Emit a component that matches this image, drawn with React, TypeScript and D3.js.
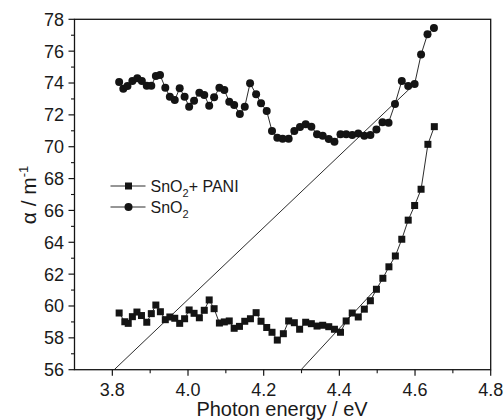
import React from "react";
import * as d3 from "d3";

const energySnO2 = [3.818,3.829,3.840,3.853,3.866,3.878,3.891,3.903,3.915,3.926,3.940,3.952,3.965,3.978,3.991,4.003,4.016,4.030,4.043,4.056,4.069,4.083,4.096,4.109,4.122,4.137,4.150,4.164,4.180,4.193,4.208,4.222,4.236,4.250,4.266,4.281,4.296,4.311,4.326,4.341,4.356,4.372,4.387,4.403,4.418,4.434,4.450,4.466,4.482,4.498,4.514,4.530,4.547,4.565,4.582,4.599,4.616,4.633,4.650];
const alphaSnO2 = [74.06,73.64,73.81,74.13,74.30,74.13,73.83,73.83,74.44,74.50,73.71,73.14,72.93,73.67,73.14,72.51,72.89,73.39,73.25,72.58,73.10,73.71,73.56,72.83,72.62,72.05,72.51,73.98,73.29,72.73,72.24,70.99,70.57,70.50,70.50,70.99,71.24,71.41,71.26,70.78,70.69,70.48,70.31,70.78,70.78,70.74,70.83,70.69,70.74,71.08,71.53,71.51,72.68,74.13,73.81,73.94,75.79,77.06,77.45];

const energyPANI = [3.818,3.833,3.842,3.853,3.865,3.877,3.891,3.903,3.915,3.927,3.940,3.952,3.965,3.978,3.991,4.003,4.016,4.030,4.043,4.056,4.069,4.083,4.096,4.109,4.122,4.136,4.150,4.165,4.180,4.193,4.208,4.222,4.236,4.252,4.266,4.281,4.295,4.311,4.326,4.341,4.356,4.372,4.387,4.403,4.418,4.434,4.450,4.466,4.482,4.498,4.515,4.531,4.548,4.565,4.582,4.599,4.616,4.634,4.651];
const alphaPANI = [59.56,59.01,58.91,59.33,59.62,59.40,58.98,59.52,60.06,59.64,59.14,59.31,59.23,58.91,59.20,59.75,59.54,59.26,59.73,60.38,59.83,58.93,59.00,59.06,58.60,58.72,59.04,59.20,59.58,59.04,58.65,58.35,57.86,58.26,59.06,58.95,58.54,58.98,58.89,58.74,58.79,58.70,58.54,58.35,59.06,59.56,59.31,59.80,60.33,61.05,61.74,62.46,63.14,64.19,65.39,66.31,67.33,70.15,71.26];

const fitSnO2X = [3.805, 4.599];
const fitSnO2Y = [56, 73.94];
const fitPANIX = [4.299, 4.499];
const fitPANIY = [56, 61.13];

const xMajor = [3.8, 4.0, 4.2, 4.4, 4.6, 4.8];
const xMinor = [3.9, 4.1, 4.3, 4.5, 4.7];
const yMajor = [56, 58, 60, 62, 64, 66, 68, 70, 72, 74, 76, 78];
const yMinor = [57, 59, 61, 63, 65, 67, 69, 71, 73, 75, 77];

const W = 504, H = 420;
const left = 74.5, right = 490.7, top = 19.3, bottom = 369.7;
const FONT = "'Liberation Sans', Arial, Helvetica, sans-serif";

export default function App() {
  const x = d3.scaleLinear().domain([3.7, 4.8]).range([left, right]);
  const y = d3.scaleLinear().domain([56, 78]).range([bottom, top]);
  const line = d3.line<[number, number]>().x(d => x(d[0])).y(d => y(d[1]));
  const sno2: [number, number][] = energySnO2.map((e, i) => [e, alphaSnO2[i]]);
  const pani: [number, number][] = energyPANI.map((e, i) => [e, alphaPANI[i]]);
  const fit1: [number, number][] = fitSnO2X.map((e, i) => [e, fitSnO2Y[i]]);
  const fit2: [number, number][] = fitPANIX.map((e, i) => [e, fitPANIY[i]]);
  const col = "#141414";
  const txt = "#1a1a1a";
  const sq = 7;
  const r = 4;
  const legX = 110.5, legY1 = 186, legY2 = 207;

  return (
    <svg width={W} height={H} style={{ position: "absolute", left: 0, top: 0, background: "#fff" }} fontFamily={FONT}>
      <rect x={0} y={0} width={W} height={H} fill="#fff" />
      <path d={line(fit1) || ""} fill="none" stroke={col} strokeWidth={0.9} />
      <path d={line(fit2) || ""} fill="none" stroke={col} strokeWidth={0.9} />
      <path d={line(sno2) || ""} fill="none" stroke={col} strokeWidth={0.9} />
      <path d={line(pani) || ""} fill="none" stroke={col} strokeWidth={0.9} />
      {sno2.map((d, i) => (
        <circle key={"c" + i} cx={x(d[0])} cy={y(d[1])} r={r} fill={col} />
      ))}
      {pani.map((d, i) => (
        <rect key={"s" + i} x={x(d[0]) - sq / 2} y={y(d[1]) - sq / 2} width={sq} height={sq} fill={col} />
      ))}
      <rect x={left} y={top} width={right - left} height={bottom - top} fill="none" stroke={col} strokeWidth={1.3} />
      {yMajor.map(v => (
        <g key={"ym" + v}>
          <line x1={left - 6} x2={left} y1={y(v)} y2={y(v)} stroke={col} strokeWidth={1.2} />
          <text x={left - 10.5} y={y(v)} dy="0.36em" textAnchor="end" fontSize={18} fill={txt}>{v}</text>
        </g>
      ))}
      {yMinor.map(v => (
        <line key={"yn" + v} x1={left - 3.5} x2={left} y1={y(v)} y2={y(v)} stroke={col} strokeWidth={1.1} />
      ))}
      {xMajor.map(v => (
        <g key={"xm" + v}>
          <line x1={x(v)} x2={x(v)} y1={bottom} y2={bottom + 6} stroke={col} strokeWidth={1.2} />
          <text x={x(v)} y={bottom + 26} textAnchor="middle" fontSize={18} fill={txt}>{v.toFixed(1)}</text>
        </g>
      ))}
      {xMinor.map(v => (
        <line key={"xn" + v} x1={x(v)} x2={x(v)} y1={bottom} y2={bottom + 3.5} stroke={col} strokeWidth={1.1} />
      ))}
      <text x={282} y={416} textAnchor="middle" fontSize={20} fill={txt}>Photon energy / eV</text>
      <text transform={`translate(36,195) rotate(-90)`} textAnchor="middle" fontSize={21} fill={txt}>
        α / m<tspan dy="-8" fontSize={13}>-1</tspan>
      </text>
      <line x1={legX} x2={legX + 35} y1={legY1} y2={legY1} stroke={col} strokeWidth={0.9} />
      <rect x={legX + 18 - sq / 2} y={legY1 - sq / 2} width={sq} height={sq} fill={col} />
      <text x={legX + 40} y={legY1} dy="0.36em" fontSize={16} fill={txt}>
        SnO<tspan dy="5" fontSize={11}>2</tspan><tspan dy="-5">+ PANI</tspan>
      </text>
      <line x1={legX} x2={legX + 35} y1={legY2} y2={legY2} stroke={col} strokeWidth={0.9} />
      <circle cx={legX + 18} cy={legY2} r={r} fill={col} />
      <text x={legX + 40} y={legY2} dy="0.36em" fontSize={16} fill={txt}>
        SnO<tspan dy="5" fontSize={11}>2</tspan>
      </text>
    </svg>
  );
}
